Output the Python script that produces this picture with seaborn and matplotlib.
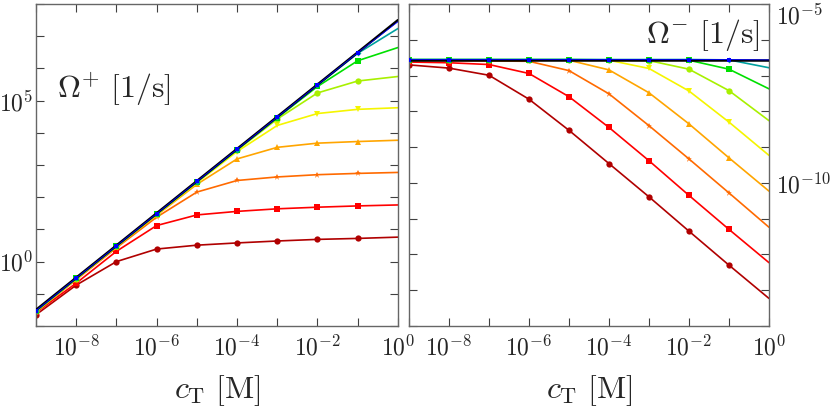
import matplotlib
matplotlib.use('Agg')
import matplotlib.pyplot as plt
import matplotlib.ticker as mticker
import seaborn as sns
import numpy as np

# concentration c_T [M]
c_t = [1e-9, 1e-8, 1e-7, 1e-6, 1e-5, 1e-4, 1e-3, 1e-2, 1e-1, 1e0]

# log10 of Omega+ [1/s]
plus_darkred = [-1.65, -0.73, 0.00, 0.39, 0.51, 0.58, 0.64, 0.69, 0.72, 0.76]
plus_red = [-1.58, -0.67, 0.32, 1.12, 1.45, 1.56, 1.64, 1.69, 1.73, 1.76]
plus_orangered = [-1.56, -0.56, 0.43, 1.38, 2.16, 2.52, 2.63, 2.70, 2.74, 2.77]
plus_orange = [-1.55, -0.54, 0.46, 1.44, 2.40, 3.19, 3.55, 3.68, 3.73, 3.77]
plus_yellow = [-1.55, -0.53, 0.47, 1.46, 2.45, 3.42, 4.23, 4.60, 4.73, 4.78]
plus_ygreen = [-1.54, -0.53, 0.47, 1.47, 2.47, 3.46, 4.43, 5.24, 5.61, 5.75]
plus_green = [-1.53, -0.52, 0.48, 1.48, 2.48, 3.48, 4.47, 5.44, 6.24, 6.65]
plus_teal = [-1.53, -0.52, 0.48, 1.48, 2.48, 3.48, 4.48, 5.48, 6.47, 7.24]
plus_blue = [-1.52, -0.51, 0.49, 1.49, 2.49, 3.49, 4.49, 5.49, 6.49, 7.45]
plus_black = [-1.50, -0.50, 0.50, 1.50, 2.50, 3.50, 4.50, 5.50, 6.50, 7.50]

# log10 of Omega- [1/s]
minus_darkred = [-6.70, -6.79, -6.99, -7.66, -8.53, -9.46, -10.39, -11.35, -12.30, -13.23]
minus_red = [-6.62, -6.64, -6.69, -6.94, -7.59, -8.45, -9.38, -10.35, -11.30, -12.23]
minus_orangered = [-6.58, -6.58, -6.59, -6.60, -6.86, -7.51, -8.40, -9.33, -10.28, -11.24]
minus_orange = [-6.56, -6.56, -6.57, -6.57, -6.57, -6.84, -7.48, -8.35, -9.30, -10.23]
minus_yellow = [-6.56, -6.56, -6.56, -6.56, -6.57, -6.57, -6.80, -7.43, -8.30, -9.23]
minus_ygreen = [-6.56, -6.56, -6.56, -6.56, -6.56, -6.56, -6.58, -6.82, -7.42, -8.26]
minus_green = [-6.55, -6.55, -6.55, -6.55, -6.55, -6.56, -6.56, -6.57, -6.82, -7.37]
minus_teal = [-6.55, -6.55, -6.55, -6.55, -6.55, -6.55, -6.55, -6.55, -6.56, -6.78]
minus_blue = [-6.55, -6.55, -6.55, -6.55, -6.55, -6.55, -6.55, -6.55, -6.55, -6.56]
minus_black = [-6.55, -6.55, -6.55, -6.55, -6.55, -6.55, -6.55, -6.55, -6.55, -6.55]

x_tick_labels = [-8, -6, -4, -2, 0]
plus_tick_labels = [0, 5]
minus_tick_labels = [-5, -10]

# colour, marker, marker size for each curve (dark red ... blue)
styles = [
    ('#b00000', 'o', 4.5),
    ('#ff0000', 's', 4.5),
    ('#ff6a00', '*', 5),
    ('#ffa500', '^', 4.5),
    ('#f5f500', 'v', 4.5),
    ('#a8f000', 'o', 4.5),
    ('#00e000', 's', 4.5),
    ('#00a0a0', 'D', 3),
    ('#0000ff', 's', 3.5),
]

sns.set_theme(style='ticks')
plt.rcParams['mathtext.fontset'] = 'cm'
plt.rcParams['font.family'] = ['DejaVu Serif']

fig = plt.figure(figsize=(8.3, 4.09), dpi=100)
ax1 = fig.add_axes([0.0434, 0.203, 0.436, 0.787])
ax2 = fig.add_axes([0.4928, 0.203, 0.4337, 0.787])

plus_series = [plus_darkred, plus_red, plus_orangered, plus_orange, plus_yellow,
               plus_ygreen, plus_green, plus_teal, plus_blue]
minus_series = [minus_darkred, minus_red, minus_orangered, minus_orange, minus_yellow,
                minus_ygreen, minus_green, minus_teal, minus_blue]

# markers only up to 1e-1, the lines run on to the right edge
marked = list(range(len(c_t) - 1))


def draw_panel(ax, series, black):
    ax.set_xscale('log')
    ax.set_yscale('log')
    for vals, (col, mk, ms) in zip(series[:-1], styles[:-1]):
        sns.lineplot(x=c_t, y=10.0 ** np.array(vals), ax=ax, color=col, marker=mk,
                     markersize=ms, markeredgewidth=0, markevery=marked,
                     linewidth=1.2, legend=False)
    # black reference line, blue curve sits on it
    sns.lineplot(x=c_t, y=10.0 ** np.array(black), ax=ax, color='black',
                 linewidth=1.8, legend=False, zorder=4)
    col, mk, ms = styles[-1]
    sns.lineplot(x=c_t, y=10.0 ** np.array(series[-1]), ax=ax, color=col, marker=mk,
                 markersize=ms, markeredgewidth=0, markevery=marked,
                 linewidth=0.6, legend=False, zorder=5)


draw_panel(ax1, plus_series, plus_black)
draw_panel(ax2, minus_series, minus_black)


def decade_formatter(shown):
    def fmt(v, pos):
        e = int(round(np.log10(v)))
        return rf'$10^{{{e}}}$' if e in shown else ''
    return mticker.FuncFormatter(fmt)


for ax in (ax1, ax2):
    ax.set_xlim(1e-9, 1e0)
    ax.xaxis.set_major_locator(mticker.FixedLocator([10.0 ** e for e in range(-9, 1)]))
    ax.xaxis.set_major_formatter(decade_formatter(x_tick_labels))
    ax.xaxis.set_minor_locator(mticker.NullLocator())
    ax.yaxis.set_minor_locator(mticker.NullLocator())
    ax.tick_params(axis='both', which='major', direction='in', length=6, width=0.8,
                   color='0.25', top=True, right=True, labelsize=17, pad=7)
    for s in ax.spines.values():
        s.set_color('0.4')
        s.set_linewidth(1.0)
    ax.set_xlabel(r'$c_{\mathrm{T}}\ [\mathrm{M}]$', fontsize=23, labelpad=9)
    ax.set_ylabel('')

ax1.set_ylim(1e-2, 1e8)
ax1.yaxis.set_major_locator(mticker.FixedLocator([10.0 ** e for e in range(-2, 9)]))
ax1.yaxis.set_major_formatter(decade_formatter(plus_tick_labels))
ax1.tick_params(axis='y', pad=2)

ax2.set_ylim(1e-14, 1e-5)
ax2.yaxis.set_major_locator(mticker.FixedLocator([10.0 ** e for e in range(-14, -4)]))
ax2.yaxis.set_major_formatter(decade_formatter(minus_tick_labels))
ax2.tick_params(axis='y', left=True, right=True, labelleft=False, labelright=True, pad=5)

ax1.text(0.058, 0.735, r'$\Omega^{+}\ [1/\mathrm{s}]$', transform=ax1.transAxes,
         fontsize=23, ha='left', va='center')
ax2.text(0.975, 0.905, r'$\Omega^{-}\ [1/\mathrm{s}]$', transform=ax2.transAxes,
         fontsize=23, ha='right', va='center')

fig.canvas.draw()
for lbl in ax2.get_yticklabels():
    if '-5' in lbl.get_text() and '-10' not in lbl.get_text():
        lbl.set_verticalalignment('top')

fig.savefig('out.png', dpi=100)
